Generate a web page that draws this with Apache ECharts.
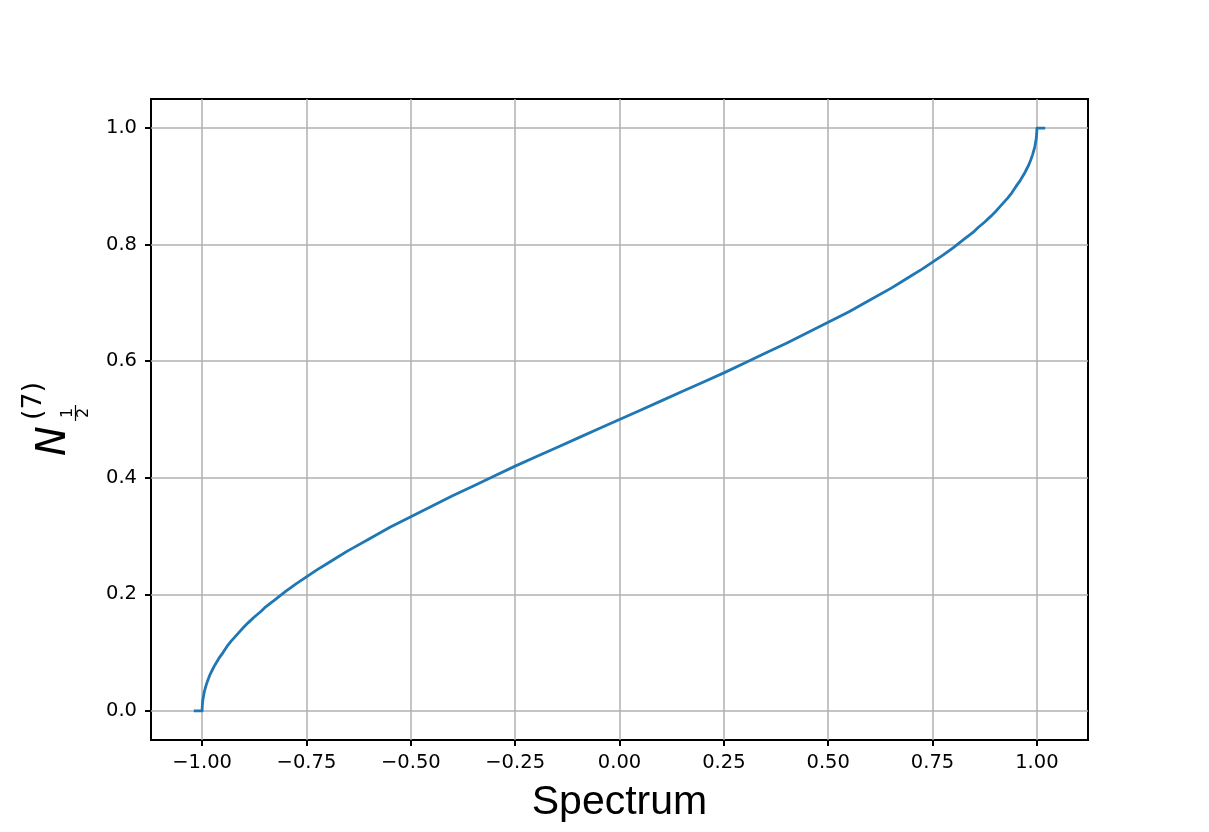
<!DOCTYPE html>
<html>
<head>
<meta charset="utf-8">
<script src="https://cdn.jsdelivr.net/npm/echarts@6/dist/echarts.min.js"></script>
<style>
html,body{margin:0;padding:0;background:#fff;}
#chart{width:1209px;height:832px;}
</style>
</head>
<body>
<div id="chart"></div>
<script>
// Spectrum values (x) and integrated density N_{1/2}^{(7)} (y)
var spectrumX = [
  -1.02, -1.00, -0.9999, -0.9995, -0.999, -0.998, -0.995, -0.99, -0.985, -0.98, -0.975,
  -0.97, -0.96, -0.95, -0.94, -0.93, -0.925, -0.91, -0.90, -0.89, -0.875, -0.86,
  -0.85, -0.825, -0.80, -0.775, -0.75, -0.725, -0.70, -0.675, -0.65, -0.60, -0.55,
  -0.50, -0.45, -0.40, -0.35, -0.30, -0.25, -0.20, -0.15, -0.10, -0.05, 0.00,
  0.05, 0.10, 0.15, 0.20, 0.25, 0.30, 0.35, 0.40, 0.45, 0.50,
  0.55, 0.60, 0.65, 0.675, 0.70, 0.725, 0.75, 0.775, 0.80, 0.825, 0.85,
  0.86, 0.875, 0.89, 0.90, 0.91, 0.925, 0.93, 0.94, 0.95, 0.96, 0.97,
  0.975, 0.98, 0.985, 0.99, 0.995, 0.998, 0.999, 0.9995, 0.9999, 1.00, 1.02
];
var densityY = [
  0.000, 0.000, 0.0045, 0.010, 0.014, 0.020, 0.032, 0.045, 0.055, 0.064, 0.071,
  0.078, 0.090, 0.100, 0.111, 0.120, 0.124, 0.136, 0.144, 0.151, 0.161, 0.170,
  0.177, 0.191, 0.205, 0.218, 0.230, 0.242, 0.253, 0.264, 0.275, 0.295, 0.315,
  0.333, 0.351, 0.369, 0.386, 0.403, 0.420, 0.436, 0.452, 0.468, 0.484, 0.500,
  0.516, 0.532, 0.548, 0.564, 0.580, 0.597, 0.614, 0.631, 0.649, 0.667,
  0.685, 0.705, 0.725, 0.736, 0.747, 0.758, 0.770, 0.782, 0.795, 0.809, 0.823,
  0.830, 0.839, 0.849, 0.856, 0.864, 0.876, 0.880, 0.889, 0.900, 0.910, 0.922,
  0.929, 0.936, 0.945, 0.955, 0.968, 0.980, 0.986, 0.990, 0.9955, 1.000, 1.000
];
var xTicks = [-1.00, -0.75, -0.50, -0.25, 0.00, 0.25, 0.50, 0.75, 1.00];
var yTicks = [0.0, 0.2, 0.4, 0.6, 0.8, 1.0];

var xMin = -1.1225, xMax = 1.1225, yMin = -0.05, yMax = 1.05;

function fmt(v, d) {
  var s = Math.abs(v).toFixed(d);
  return (v < -1e-9 ? '\u2212' : '') + s;
}

var points = spectrumX.map(function (x, i) { return [x, densityY[i]]; });

var gridLines = xTicks.map(function (v) { return { xAxis: v }; })
  .concat(yTicks.map(function (v) { return { yAxis: v }; }));

var tickFont = { fontFamily: 'DejaVu Sans', fontSize: 19.5, color: '#000' };

var chart = echarts.init(document.getElementById('chart'), null, { renderer: 'canvas' });
chart.setOption({
  animation: false,
  backgroundColor: '#fff',
  grid: {
    left: 151, right: 121, top: 99, bottom: 92,
    show: true, borderColor: '#000', borderWidth: 2, backgroundColor: 'transparent'
  },
  xAxis: {
    type: 'value', min: xMin, max: xMax,
    name: 'Spectrum', nameLocation: 'middle', nameGap: 42,
    nameTextStyle: { fontFamily: 'Liberation Sans', fontSize: 41, color: '#000' },
    axisLine: { show: true, onZero: false, lineStyle: { color: '#000', width: 2 } },
    axisTick: { show: true, inside: false, length: 6, customValues: xTicks, lineStyle: { color: '#000', width: 2 } },
    axisLabel: Object.assign({ show: true, margin: 13, customValues: xTicks, formatter: function (v) { return fmt(v, 2); } }, tickFont),
    splitLine: { show: false }
  },
  yAxis: {
    type: 'value', min: yMin, max: yMax,
    axisLine: { show: true, onZero: false, lineStyle: { color: '#000', width: 2 } },
    axisTick: { show: true, inside: false, length: 6, customValues: yTicks, lineStyle: { color: '#000', width: 2 } },
    axisLabel: Object.assign({ show: true, margin: 14, customValues: yTicks, formatter: function (v) { return fmt(v, 1); } }, tickFont),
    splitLine: { show: false }
  },
  series: [
    {
      type: 'line', data: [], silent: true, z: 1,
      markLine: {
        z: 1, silent: true, symbol: ['none', 'none'], animation: false,
        label: { show: false },
        lineStyle: { color: '#b0b0b0', width: 1.5, type: 'solid' },
        emphasis: { disabled: true },
        data: gridLines
      }
    },
    {
      type: 'line', data: points, showSymbol: false, smooth: false, z: 10,
      lineStyle: { color: '#1f77b4', width: 2.8, join: 'round', cap: 'butt' },
      itemStyle: { color: '#1f77b4' }
    }
  ],
  graphic: [
    { type: 'text', x: 55, y: 441, rotation: Math.PI / 2,
      style: { text: 'N', font: 'italic 40px "DejaVu Sans"', fill: '#000', align: 'center', verticalAlign: 'middle' } },
    { type: 'text', x: 34, y: 401, rotation: Math.PI / 2,
      style: { text: '(7)', font: '27px "DejaVu Sans"', fill: '#000', align: 'center', verticalAlign: 'middle' } },
    { type: 'text', x: 68, y: 413, rotation: Math.PI / 2,
      style: { text: '1', font: '16px "DejaVu Sans"', fill: '#000', align: 'center', verticalAlign: 'middle' } },
    { type: 'line', shape: { x1: 75.5, y1: 405, x2: 75.5, y2: 421 }, style: { stroke: '#000', lineWidth: 1.2 } },
    { type: 'text', x: 84, y: 413, rotation: Math.PI / 2,
      style: { text: '2', font: '16px "DejaVu Sans"', fill: '#000', align: 'center', verticalAlign: 'middle' } }
  ]
});
</script>
</body>
</html>
